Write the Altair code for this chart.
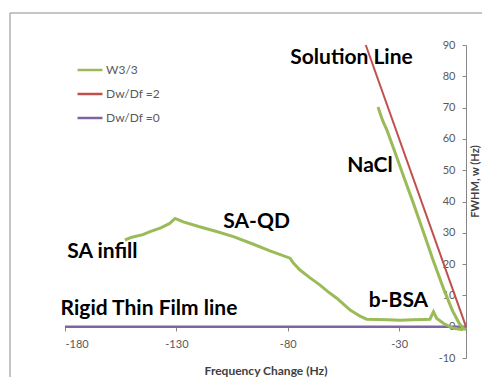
import altair as alt
import pandas as pd

# ---------------- data ----------------
series_names = ["W3/3", "Dw/Df =2", "Dw/Df =0"]
series_colors = ["#9BBB59", "#C0504D", "#8064A2"]

# W3/3 trace: SA infill -> SA-QD -> b-BSA
qd_x = [-153.1, -150, -145, -141.8, -137, -133, -130.6, -128.5, -126.9, -120, -112,
        -104.4, -96, -88, -79, -77.5, -74.5, -70, -65.5, -62, -58, -55, -52, -49.5,
        -47.6, -44.6, -40, -35, -29.6, -24, -19, -16.2, -14.6, -13.2, -10.2, -5.7, -1.2]
qd_y = [27.7, 28.6, 29.4, 30.4, 31.6, 33.0, 34.6, 34.0, 33.5, 32.0, 30.4,
        28.8, 26.5, 24.2, 21.9, 20.3, 18.1, 15.6, 13.3, 11.2, 9.1, 7.2, 5.3, 4.2,
        3.4, 2.4, 2.3, 2.2, 2.1, 2.2, 2.3, 2.4, 4.8, 2.7, 1.1, -0.5, -1.0]

# W3/3 trace: NaCl
nacl_x = [-39.5, -37.5, -35.5, -32, -28, -23.8, -19, -14.8, -10, -6, -3, -1.2, 0]
nacl_y = [70.2, 66.0, 62.8, 56, 48, 39.8, 30, 21.3, 12, 5, 1, -0.5, -1]

# Dw/Df = 2 (solution line) and Dw/Df = 0 (rigid film line)
red_x = [-45, 0]
red_y = [90, 0]
purple_x = [-180, 0]
purple_y = [0, 0]

# annotations (data coordinates)
ann_text = ["Solution Line", "NaCl", "SA-QD", "SA infill", "b-BSA", "Rigid Thin Film line"]
ann_x = [-51.4, -43.1, -94.0, -163.2, -30.3, -142.3]
ann_y = [85.8, 51.3, 33.5, 23.9, 8.2, 5.7]

x_ticks = [-180, -130, -80, -30]
y_ticks = [-10, 0, 10, 20, 30, 40, 50, 60, 70, 80, 90]

# ---------------- frames ----------------
def frame(xs, ys, name):
    return pd.DataFrame({"x": xs, "y": ys, "series": name, "i": list(range(len(xs)))})

df_qd = frame(qd_x, qd_y, series_names[0])
df_nacl = frame(nacl_x, nacl_y, series_names[0])
df_red = frame(red_x, red_y, series_names[1])
df_purple = frame(purple_x, purple_y, series_names[2])
df_ann = pd.DataFrame({"label": ann_text, "x": ann_x, "y": ann_y})

FONT = "Lato"
AX_GRAY = "#868686"
LBL_GRAY = "#595959"
TTL_GRAY = "#404040"

xscale = alt.Scale(domain=[-180, 0], nice=False, zero=False)
yscale = alt.Scale(domain=[-10, 90], nice=False, zero=False)

x_axis = alt.Axis(values=x_ticks, title="Frequency Change (Hz)", offset=-31, domain=False,
                  grid=False, tickSize=4, tickColor=AX_GRAY, labelPadding=7,
                  labelExpr="datum.value + ''",
                  labelFont=FONT, labelFontSize=11, labelColor=LBL_GRAY,
                  titleFont=FONT, titleFontSize=12, titleFontWeight="bold",
                  titleColor=TTL_GRAY, titleY=47, titleBaseline="alphabetic")
X = alt.X("x:Q", scale=xscale, axis=x_axis)

y_axis_main = alt.Axis(orient="left", offset=-401, values=y_ticks, title=None, grid=False,
                       domainColor=AX_GRAY, tickColor=AX_GRAY, tickSize=4, labelPadding=7,
                       labelExpr="datum.value + ''",
                       labelFont=FONT, labelFontSize=11, labelColor=LBL_GRAY)
y_axis_title = alt.Axis(orient="right", labels=False, ticks=False, domain=False, grid=False,
                        title="FWHM, w (Hz)", titleAngle=270, titleX=9, titleY=136,
                        titleAlign="center", titleBaseline="middle",
                        titleFont=FONT, titleFontSize=11, titleFontWeight="bold",
                        titleColor=TTL_GRAY)

color = alt.Color("series:N",
                  scale=alt.Scale(domain=series_names, range=series_colors),
                  legend=alt.Legend(orient="none", legendX=11, legendY=11, title=None,
                                    symbolType="stroke", symbolSize=625,
                                    symbolStrokeWidth=2.5, labelFont=FONT,
                                    labelFontSize=12, labelColor=LBL_GRAY,
                                    labelOffset=2, rowPadding=4, padding=0))

border = alt.Chart(pd.DataFrame({"d": [0]})).mark_rect(
    fillOpacity=0, stroke="#8c8c8c", strokeWidth=1
).encode(x=alt.value(-55), x2=alt.value(700), y=alt.value(-32), y2=alt.value(700))

purple = alt.Chart(df_purple).mark_line(strokeWidth=2.5).encode(
    x=X, y=alt.Y("y:Q", scale=yscale, axis=y_axis_title), color=color, order="i:Q")

red = alt.Chart(df_red).mark_line(strokeWidth=2).encode(
    x=X, y=alt.Y("y:Q", scale=yscale, axis=y_axis_main), color=color, order="i:Q")

green1 = alt.Chart(df_qd).mark_line(strokeWidth=3).encode(
    x=X, y=alt.Y("y:Q", scale=yscale, axis=None), color=color, order="i:Q")

green2 = alt.Chart(df_nacl).mark_line(strokeWidth=3).encode(
    x=X, y=alt.Y("y:Q", scale=yscale, axis=None), color=color, order="i:Q")

text = alt.Chart(df_ann).mark_text(font=FONT, fontWeight="bold", fontSize=21,
                                   color="#000000", align="center",
                                   baseline="middle").encode(
    x=X, y=alt.Y("y:Q", scale=yscale, axis=None), text="label:N")

chart = alt.layer(border, purple, red, green1, green2, text).resolve_axis(
    y="independent"
).properties(
    width=401, height=313,
    autosize=alt.AutoSizeParams(type="none"),
    padding={"left": 57, "top": 37, "right": 16, "bottom": 19},
).configure_view(strokeWidth=0)

chart.save("out.html", embed_options={"renderer": "svg", "actions": False})
